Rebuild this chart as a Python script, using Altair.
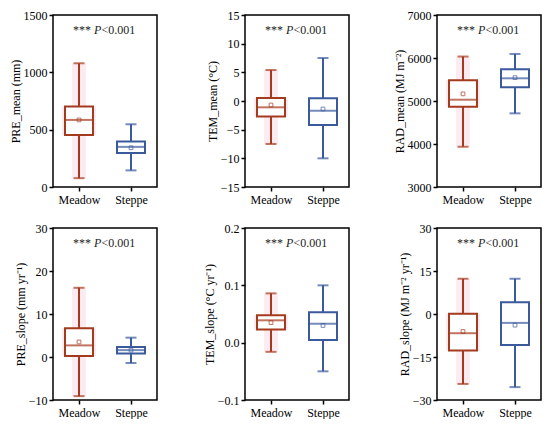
import altair as alt
import pandas as pd

groups = ["Meadow", "Steppe"]
colors = ["#A43B1E", "#3B5A9C"]
mean_colors = ["#E58C8C", "#8FA6CF"]

titles = ["PRE_mean (mm)", "TEM_mean (°C)", "RAD_mean (MJ m⁻²)",
          "PRE_slope (mm yr⁻¹)", "TEM_slope (°C yr⁻¹)", "RAD_slope (MJ m⁻² yr⁻¹)"]
domains = [[0, 1500], [-15, 15], [3000, 7000], [-10, 30], [-0.1, 0.2], [-30, 30]]
tick_values = [[0, 500, 1000, 1500], [-15, -10, -5, 0, 5, 10, 15],
               [3000, 4000, 5000, 6000, 7000], [-10, 0, 10, 20, 30],
               [-0.1, 0.0, 0.1, 0.2], [-30, -15, 0, 15, 30]]
formats = ["d", "d", "d", "d", ".1f", "d"]

# [Meadow, Steppe] statistics per panel
mins = [[77, 145], [-7.5, -10.0], [3936, 4713], [-9.1, -1.4], [-0.016, -0.05], [-24.4, -25.5]]
q1s = [[453, 296], [-2.7, -4.2], [4864, 5317], [0.23, 0.83], [0.023, 0.0045], [-12.7, -10.8]]
medians = [[585, 350], [-1.1, -1.7], [5030, 5528], [2.7, 1.6], [0.039, 0.033], [-6.7, -3.1]]
q3s = [[703, 396], [0.54, 0.5], [5483, 5740], [6.67, 2.35], [0.048, 0.053], [0.1, 4.1]]
maxs = [[1079, 547], [5.4, 7.5], [6034, 6094], [16.1, 4.5], [0.086, 0.1], [12.3, 12.3]]
means = [[585, 342], [-0.7, -1.4], [5166, 5543], [3.5, 1.6], [0.035, 0.03], [-6.1, -3.9]]

W, H = 104, 172
FONT = "Liberation Serif"
cscale = alt.Scale(domain=groups, range=colors)
mscale = alt.Scale(domain=groups, range=mean_colors)


def panel(i):
    df = pd.DataFrame({
        "group": groups, "min": mins[i], "q1": q1s[i], "median": medians[i],
        "q3": q3s[i], "max": maxs[i], "mean": means[i],
    })
    x = alt.X("group:N", scale=alt.Scale(type="point", padding=0.5, domain=groups),
              axis=alt.Axis(title=None, labelAngle=0, ticks=True, tickSize=4,
                            tickWidth=1.5, labelPadding=3, domain=False))
    yscale = alt.Scale(domain=domains[i], nice=False, zero=False)
    yaxis = alt.Axis(title=titles[i], values=tick_values[i], format=formats[i],
                     tickCount=len(tick_values[i]),
                     tickSize=4, tickWidth=1.5, domain=False, grid=False,
                     labelPadding=2, titlePadding=1, labelOverlap=False)
    base = alt.Chart(df)
    glow_w = base.transform_filter(alt.datum.group == "Meadow").mark_bar(
        size=14, color="#FDEBF2").encode(x=x, y=alt.Y("min:Q", scale=yscale, axis=yaxis), y2="max:Q")
    glow_b = base.transform_filter(alt.datum.group == "Meadow").mark_bar(
        size=34, color="#FDEBF2").encode(x=x, y=alt.Y("q1:Q", scale=yscale), y2="q3:Q")
    whisk = base.mark_rule(strokeWidth=2).encode(
        x=x, y=alt.Y("min:Q", scale=yscale, axis=yaxis), y2="max:Q",
        color=alt.Color("group:N", scale=cscale, legend=None))
    box = base.mark_bar(size=28, fill="white", strokeWidth=2).encode(
        x=x, y=alt.Y("q1:Q", scale=yscale), y2="q3:Q",
        stroke=alt.Stroke("group:N", scale=cscale, legend=None))
    med = base.mark_tick(size=28, thickness=2).encode(
        x=x, y=alt.Y("median:Q", scale=yscale),
        color=alt.Color("group:N", scale=cscale, legend=None))
    capl = base.mark_tick(size=11, thickness=2).encode(
        x=x, y=alt.Y("min:Q", scale=yscale),
        color=alt.Color("group:N", scale=cscale, legend=None))
    caph = base.mark_tick(size=11, thickness=2).encode(
        x=x, y=alt.Y("max:Q", scale=yscale),
        color=alt.Color("group:N", scale=cscale, legend=None))
    mn = base.mark_point(shape="square", size=14, filled=False, strokeWidth=1).encode(
        x=x, y=alt.Y("mean:Q", scale=yscale),
        color=alt.Color("group:N", scale=mscale, legend=None))
    one = pd.DataFrame({"a": [0]})
    t1 = alt.Chart(one).mark_text(text="***", align="left", baseline="alphabetic",
                                  font=FONT, fontSize=12, color="#222").encode(
        x=alt.value(20), y=alt.value(19))
    t2 = alt.Chart(one).mark_text(text="P", align="left", baseline="alphabetic",
                                  font=FONT, fontSize=12, fontStyle="italic", color="#222").encode(
        x=alt.value(41), y=alt.value(19))
    t3 = alt.Chart(one).mark_text(text="<0.001", align="left", baseline="alphabetic",
                                  font=FONT, fontSize=12, color="#222").encode(
        x=alt.value(48.5), y=alt.value(19))
    return alt.layer(glow_w, glow_b, whisk, box, med, capl, caph, mn, t1, t2, t3).resolve_scale(
        color="shared").properties(width=W, height=H)


chart = alt.concat(*[panel(i) for i in range(6)], columns=3,
                   spacing=alt.RowColnumber(row=41, column=88), bounds="flush").properties(
    padding={"left": 0, "top": 0, "right": 0, "bottom": 0}
).configure_view(stroke="black", strokeWidth=1.5).configure_axis(
    labelFont=FONT, titleFont=FONT, labelFontSize=12, titleFontSize=12,
    labelColor="black", titleColor="black", tickColor="black", titleFontWeight="normal"
)

chart.save("out.html", embed_options={"renderer": "svg", "actions": False})
